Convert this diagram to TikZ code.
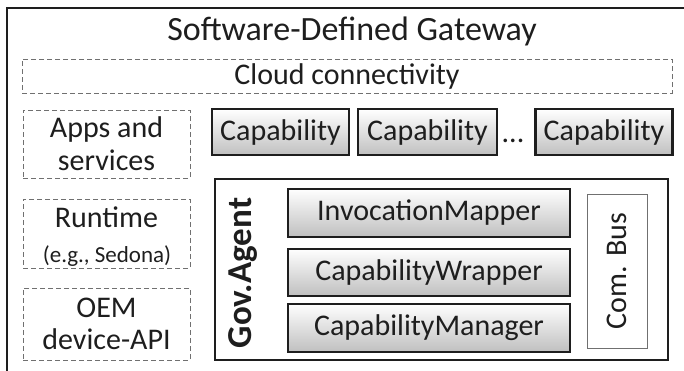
\documentclass[tikz,border=0pt]{standalone}
\usepackage{fontspec}
\setmainfont{Carlito}
\definecolor{ink}{HTML}{1E1E1E}
\definecolor{dashgray}{HTML}{707070}
\definecolor{shadebot}{HTML}{C0C0C0}
\tikzset{
  txt/.style={text=ink, font=\fontsize{30}{33}\selectfont, inner sep=0pt, align=center},
  outerframe/.style={draw=ink, line width=1.4pt},
  dashbox/.style={txt, draw=dashgray, line width=0.9pt, dash pattern=on 5pt off 3pt},
  capbox/.style={txt, draw=ink, line width=2.4pt, top color=white, bottom color=shadebot},
  modbox/.style={txt, draw=ink, line width=2pt, top color=white, bottom color=shadebot},
  agentbox/.style={draw=ink, line width=2pt, fill=white},
  busbox/.style={txt, draw=dashgray, line width=0.8pt, fill=white},
}
\begin{document}
\begin{tikzpicture}[x=1pt, y=-1pt]
\useasboundingbox (0,0) rectangle (684,370);
% gateway frame, running past the right and bottom edges
\begin{scope}
  \clip (0,0) rectangle (684,370);
  \draw[outerframe] (7,8) rectangle (720,400);
\end{scope}
\node[txt, font=\fontsize{34}{38}\selectfont] (title) at (352,31) {Software-Defined Gateway};

% cloud connectivity layer
\node[dashbox, minimum width=650, minimum height=34] (cloud) at (347,76) {Cloud connectivity};

% left column: platform layers
\node[dashbox, minimum width=167, minimum height=68] (apps) at (106.5,144) {Apps and\\services};
\node[dashbox, minimum width=167, minimum height=69] (runtime) at (106.5,233.5) {};
\node[txt] (rtlabel) at (106.5,217) {Runtime};
\node[txt, font=\fontsize{23}{26}\selectfont] (rtnote) at (107,256) {(e.g., Sedona)};
\node[dashbox, minimum width=167, minimum height=72] (oem) at (106.5,324) {OEM\\[-1pt]device-API};

% capabilities
\node[capbox, minimum width=137, minimum height=46] (cap1) at (280.5,132) {Capability};
\node[capbox, minimum width=139, minimum height=46] (cap2) at (427.5,132) {Capability};
\node[txt] (dots) at (513,141) {...};
\node[capbox, minimum width=137, minimum height=46] (cap3) at (604,132) {Capability};

% governance agent
\node[agentbox, minimum width=453, minimum height=181] (agent) at (441.5,269) {};
\node[txt, font=\bfseries\fontsize{35}{38}\selectfont, rotate=90] (agentlabel) at (243,273) {Gov.Agent};
\node[modbox, minimum width=282, minimum height=48] (mapper) at (429,212.5) {InvocationMapper};
\node[modbox, minimum width=282, minimum height=47] (wrapper) at (429,272) {CapabilityWrapper};
\node[modbox, minimum width=282, minimum height=48] (manager) at (429,327.5) {CapabilityManager};
\node[busbox, rotate=90, minimum width=154, minimum height=60] (bus) at (617,271) {Com. Bus};
\end{tikzpicture}
\end{document}
